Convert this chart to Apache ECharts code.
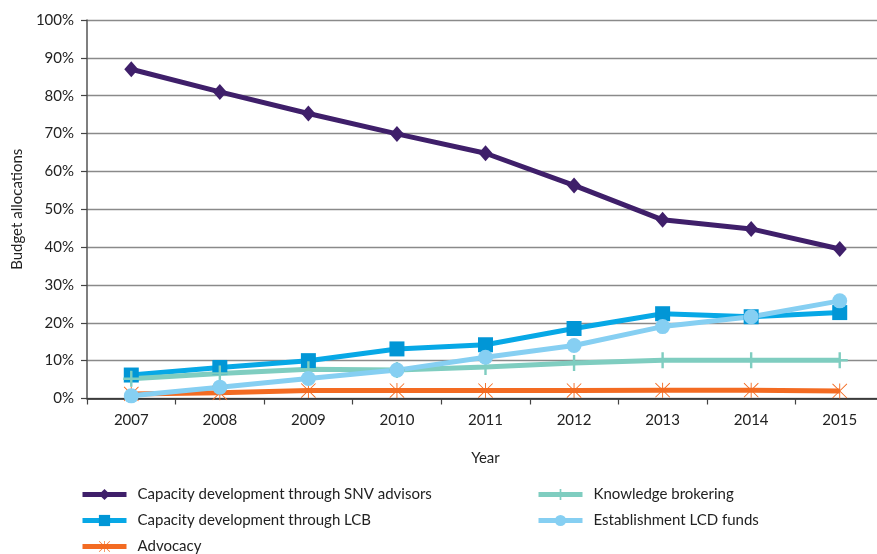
<!DOCTYPE html>
<html><head><meta charset="utf-8">
<script src="https://cdn.jsdelivr.net/npm/echarts@6/dist/echarts.min.js"></script>
<style>html,body{margin:0;padding:0;background:#fff;overflow:hidden}#c{width:900px;height:554px}</style>
</head><body><div id="c"></div>
<script>
const years = ['2007','2008','2009','2010','2011','2012','2013','2014','2015'];
const snvAdvisors = [87.0, 81.0, 75.3, 69.9, 64.8, 56.3, 47.2, 44.8, 39.5];
const lcb = [6.2, 8.2, 10.0, 13.1, 14.2, 18.5, 22.4, 21.6, 22.7];
const advocacy = [1.2, 1.5, 2.1, 2.1, 2.1, 2.1, 2.2, 2.2, 2.0];
const knowledge = [5.2, 6.6, 7.7, 7.5, 8.3, 9.4, 10.1, 10.1, 10.1];
const lcdFunds = [0.7, 3.0, 5.3, 7.5, 10.9, 14.0, 19.0, 21.6, 25.8];
const yTicks = [0,10,20,30,40,50,60,70,80,90,100];
const seriesNames = ['Capacity development through SNV advisors','Capacity development through LCB','Advocacy','Knowledge brokering','Establishment LCD funds'];

const FONT = 'Lato';
const plusPath = 'path://M8.5,0 L11.5,0 L11.5,20 L8.5,20 Z M0,8.5 L20,8.5 L20,11.5 L0,11.5 Z';
const starPath = 'path://M9.4,0 L10.6,0 L10.6,20 L9.4,20 Z M1.0,0.2 L19.8,19 L19,19.8 L0.2,1 Z M19,0.2 L19.8,1 L1,19.8 L0.2,19 Z';

function ser(name, data, color, symbol, size, mcolor){
  return {name, type:'line', data, symbol, symbolSize:size, showSymbol:true,
    lineStyle:{color, width:5}, itemStyle:{color: mcolor||color, borderWidth:0},
    emphasis:{disabled:true}, animation:false};
}
function leg(name, left, top){
  return {data:[name], left, top, padding:0, itemWidth:44, itemHeight:14,
    lineStyle:{width:5},
    textStyle:{fontFamily:FONT, fontSize:15, color:'#222', padding:[0,0,0,6]}};
}

const chart = echarts.init(document.getElementById('c'));
chart.setOption({
  animation:false,
  grid:{left:87, right:16, top:20, bottom:155.5, containLabel:false},
  xAxis:{type:'category', data:years, boundaryGap:true,
    name:'Year', nameLocation:'middle', nameGap:52,
    nameTextStyle:{fontFamily:FONT, fontSize:15, color:'#222'},
    axisLine:{lineStyle:{color:'#222', width:1.5}},
    axisTick:{show:true, length:6, lineStyle:{color:'#444', width:1.2}},
    axisLabel:{fontFamily:FONT, fontSize:15, color:'#222', margin:14}},
  yAxis:{type:'value', min:0, max:100, interval:10,
    name:'Budget allocations', nameLocation:'middle', nameRotate:90, nameGap:62,
    nameTextStyle:{fontFamily:FONT, fontSize:15, color:'#222'},
    axisLine:{show:true, lineStyle:{color:'#555', width:1.5}},
    axisTick:{show:true, length:6, lineStyle:{color:'#444', width:1.2}},
    axisLabel:{fontFamily:FONT, fontSize:15, color:'#222', margin:13,
      formatter:v=> yTicks.includes(v) ? v+'%' : ''},
    splitLine:{show:true, lineStyle:{color:'#8a8a8a', width:1.3}}},
  legend:[
    leg(seriesNames[0], 80, 487),
    leg(seriesNames[1], 80, 513),
    leg(seriesNames[2], 80, 539),
    leg(seriesNames[3], 536, 487),
    leg(seriesNames[4], 536, 513)
  ],
  series:[
    ser(seriesNames[0], snvAdvisors, '#3f1f6a', 'diamond', [14,16]),
    ser(seriesNames[1], lcb, '#07a8e6', 'rect', 15, '#0196d6'),
    ser(seriesNames[2], advocacy, '#f36b22', starPath, 15),
    ser(seriesNames[3], knowledge, '#7fcdc0', plusPath, 16),
    ser(seriesNames[4], lcdFunds, '#86cff2', 'circle', 15)
  ]
});
</script></body></html>
